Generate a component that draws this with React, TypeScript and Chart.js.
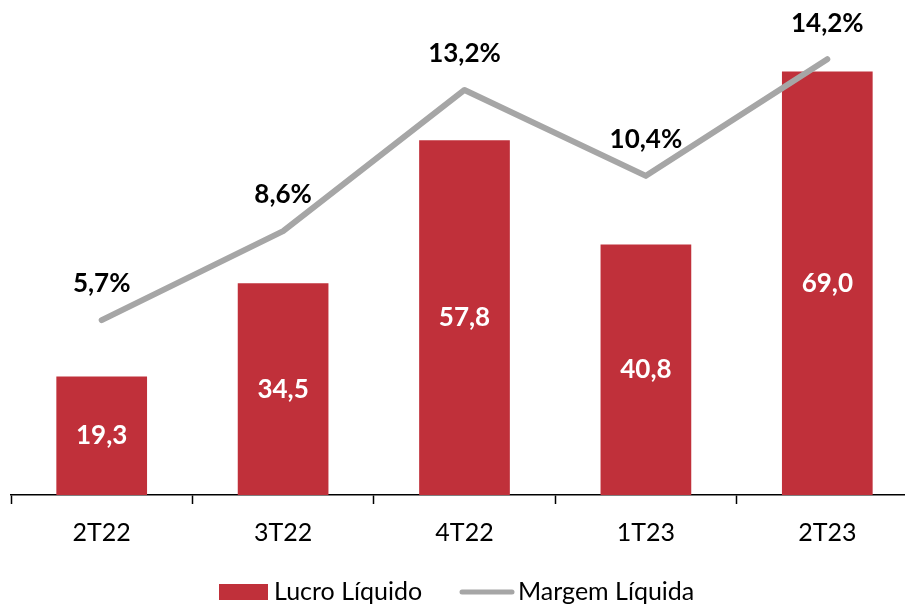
import React, { useEffect, useRef } from "react";
import { Chart, registerables } from "chart.js";
Chart.register(...registerables);

const categories = ["2T22", "3T22", "4T22", "1T23", "2T23"];
const lucroLiquido = [19.3, 34.5, 57.8, 40.8, 69.0];
const margemLiquida = [5.7, 8.6, 13.2, 10.4, 14.2];
const seriesNames = ["Lucro Líquido", "Margem Líquida"];

const FONT = "Lato, 'Open Sans', sans-serif";
const RED = "#C0303A";
const GRAY = "#A6A6A6";

const fmt = (v: number, d = 1) => v.toFixed(d).replace(".", ",");

const labelsPlugin = {
  id: "customLabels",
  afterDatasetsDraw(chart: any) {
    const ctx = chart.ctx;
    ctx.save();
    ctx.textAlign = "center";
    ctx.textBaseline = "middle";
    ctx.font = `bold 26px ${FONT}`;
    const barMeta = chart.getDatasetMeta(0);
    barMeta.data.forEach((el: any, i: number) => {
      ctx.fillStyle = "#FFFFFF";
      const y = (el.y + el.base) / 2;
      ctx.fillText(fmt(lucroLiquido[i]), el.x, y);
    });
    const lineMeta = chart.getDatasetMeta(1);
    lineMeta.data.forEach((el: any, i: number) => {
      ctx.fillStyle = "#000000";
      ctx.fillText(fmt(margemLiquida[i]) + "%", el.x, el.y - 36);
    });
    ctx.restore();
  },
  afterDraw(chart: any) {
    const ctx = chart.ctx;
    ctx.save();
    ctx.font = `25px ${FONT}`;
    ctx.textBaseline = "middle";
    ctx.textAlign = "left";
    const cy = 592;
    ctx.fillStyle = RED;
    ctx.fillRect(219, cy - 8, 49, 16);
    ctx.fillStyle = "#000";
    ctx.fillText(seriesNames[0], 274, cy);
    ctx.strokeStyle = GRAY;
    ctx.lineWidth = 5;
    ctx.lineCap = "round";
    ctx.beginPath();
    ctx.moveTo(462, cy);
    ctx.lineTo(512, cy);
    ctx.stroke();
    ctx.fillText(seriesNames[1], 518, cy);
    ctx.restore();
  },
};

export default function App() {
  const ref = useRef<HTMLCanvasElement>(null);
  useEffect(() => {
    if (!ref.current) return;
    const chart = new Chart(ref.current, {
      type: "bar",
      data: {
        labels: categories,
        datasets: [
          {
            type: "bar",
            label: seriesNames[0],
            data: lucroLiquido,
            backgroundColor: RED,
            yAxisID: "y",
            categoryPercentage: 1,
            barPercentage: 0.5,
            order: 2,
          },
          {
            type: "line",
            label: seriesNames[1],
            data: margemLiquida,
            borderColor: GRAY,
            borderWidth: 6,
            borderCapStyle: "round",
            borderJoinStyle: "round",
            pointRadius: 0,
            tension: 0,
            yAxisID: "y1",
            order: 1,
          } as any,
        ],
      },
      options: {
        responsive: false,
        animation: false,
        layout: { padding: { left: 11, right: 7, top: 4, bottom: 43 } },
        plugins: { legend: { display: false }, tooltip: { enabled: false } },
        scales: {
          x: {
            grid: {
              display: true,
              drawOnChartArea: false,
              drawTicks: true,
              tickLength: 9,
              tickWidth: 1.5,
              tickColor: "#000",
              offset: true,
            },
            border: { display: true, color: "#000", width: 1.5 },
            ticks: {
              color: "#000",
              font: { family: FONT, size: 25 },
              padding: 14,
            },
          },
          y: { display: false, min: 0, max: 80 },
          y1: { display: false, min: 0, max: 16 },
        },
      },
      plugins: [labelsPlugin],
    });
    return () => chart.destroy();
  }, []);
  return (
    <div
      style={{
        position: "fixed",
        left: 0,
        top: 0,
        width: 905,
        height: 605,
        overflow: "hidden",
        background: "#fff",
      }}
    >
      <canvas ref={ref} width={925} height={605} />
    </div>
  );
}
